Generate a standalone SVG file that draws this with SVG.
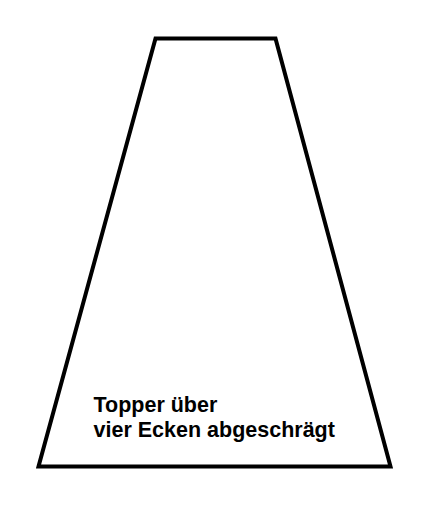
<svg xmlns="http://www.w3.org/2000/svg" width="431" height="511" viewBox="0 0 431 511">
<style>
.shape{fill:#fff;stroke:#000;stroke-width:4;stroke-linejoin:miter}
.lbl{font-family:"Liberation Sans",Arial,sans-serif;font-weight:bold;font-size:21.5px;fill:#000}
</style>
<rect width="431" height="511" fill="#fff"/>
<g id="topper">
<polygon class="shape" points="155.5,38.5 275.5,38.5 390.5,466.5 38.5,466.5"/>
<text class="lbl" x="93.5" y="412">Topper über</text>
<text class="lbl" x="93.5" y="437">vier Ecken abgeschrägt</text>
</g>
</svg>
